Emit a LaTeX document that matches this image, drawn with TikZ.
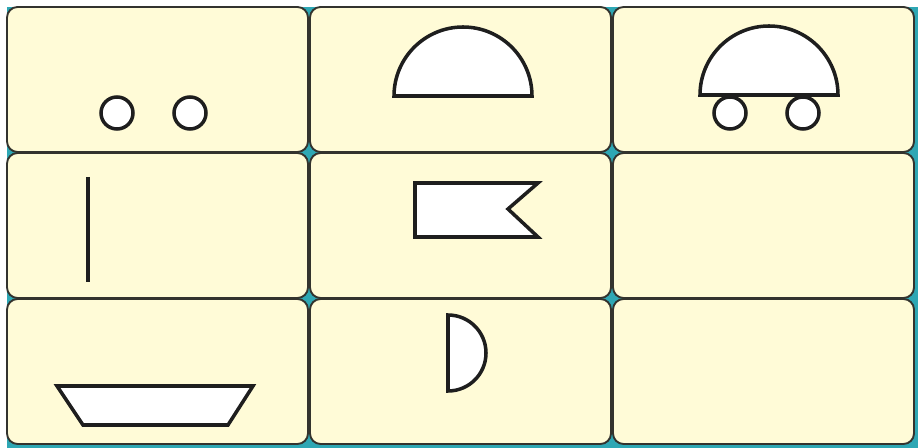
\documentclass[tikz,border=0pt]{standalone}
\usepackage{xcolor}
\definecolor{Paper}{HTML}{FFFFFF}
\definecolor{Teal}{HTML}{2EA7B4}
\definecolor{Cream}{HTML}{FFFBD7}
\definecolor{Ink}{HTML}{1E1E1E}
\definecolor{Edge}{HTML}{33332E}

\begin{document}
\begin{tikzpicture}[x=0.03cm,y=0.03cm,tile/.style={fill=Cream,draw=Edge,line width=1.6pt,rounded corners=9pt},part/.style={fill=white,draw=Ink,line width=3pt,line join=miter},stick/.style={draw=Ink,line width=2.8pt}]
\useasboundingbox (0,0) rectangle (918,448);
\fill[Paper] (0,0) rectangle (918,448);
\fill[Teal] (7,0) rectangle (918,441);

% the nine cards
\foreach \col in {0,1,2}
  \foreach \row in {0,1,2}
    \draw[tile] ({7+303*\col},{441-146*\row}) rectangle ++(301,-145);

% row one
\filldraw[part] (117,335) circle[radius=16]; \filldraw[part] (190,335) circle[radius=16];
\filldraw[part] (394,352) arc[start angle=180,end angle=0,radius=69] -- cycle;
\filldraw[part] (730,335) circle[radius=16]; \filldraw[part] (803,335) circle[radius=16];
\filldraw[part] (700,353) arc[start angle=180,end angle=0,radius=69] -- cycle;

% row two
\draw[stick] (88,271)--(88,166);
\filldraw[part] (415,265)--(538,265)--(508,239)--(538,211)--(415,211)--cycle;

% row three
\filldraw[part] (57,62)--(253,62)--(228,23)--(83,23)--cycle;
\filldraw[part] (448,133) arc[start angle=90,end angle=-90,radius=38] -- cycle;

\end{tikzpicture}
\end{document}
